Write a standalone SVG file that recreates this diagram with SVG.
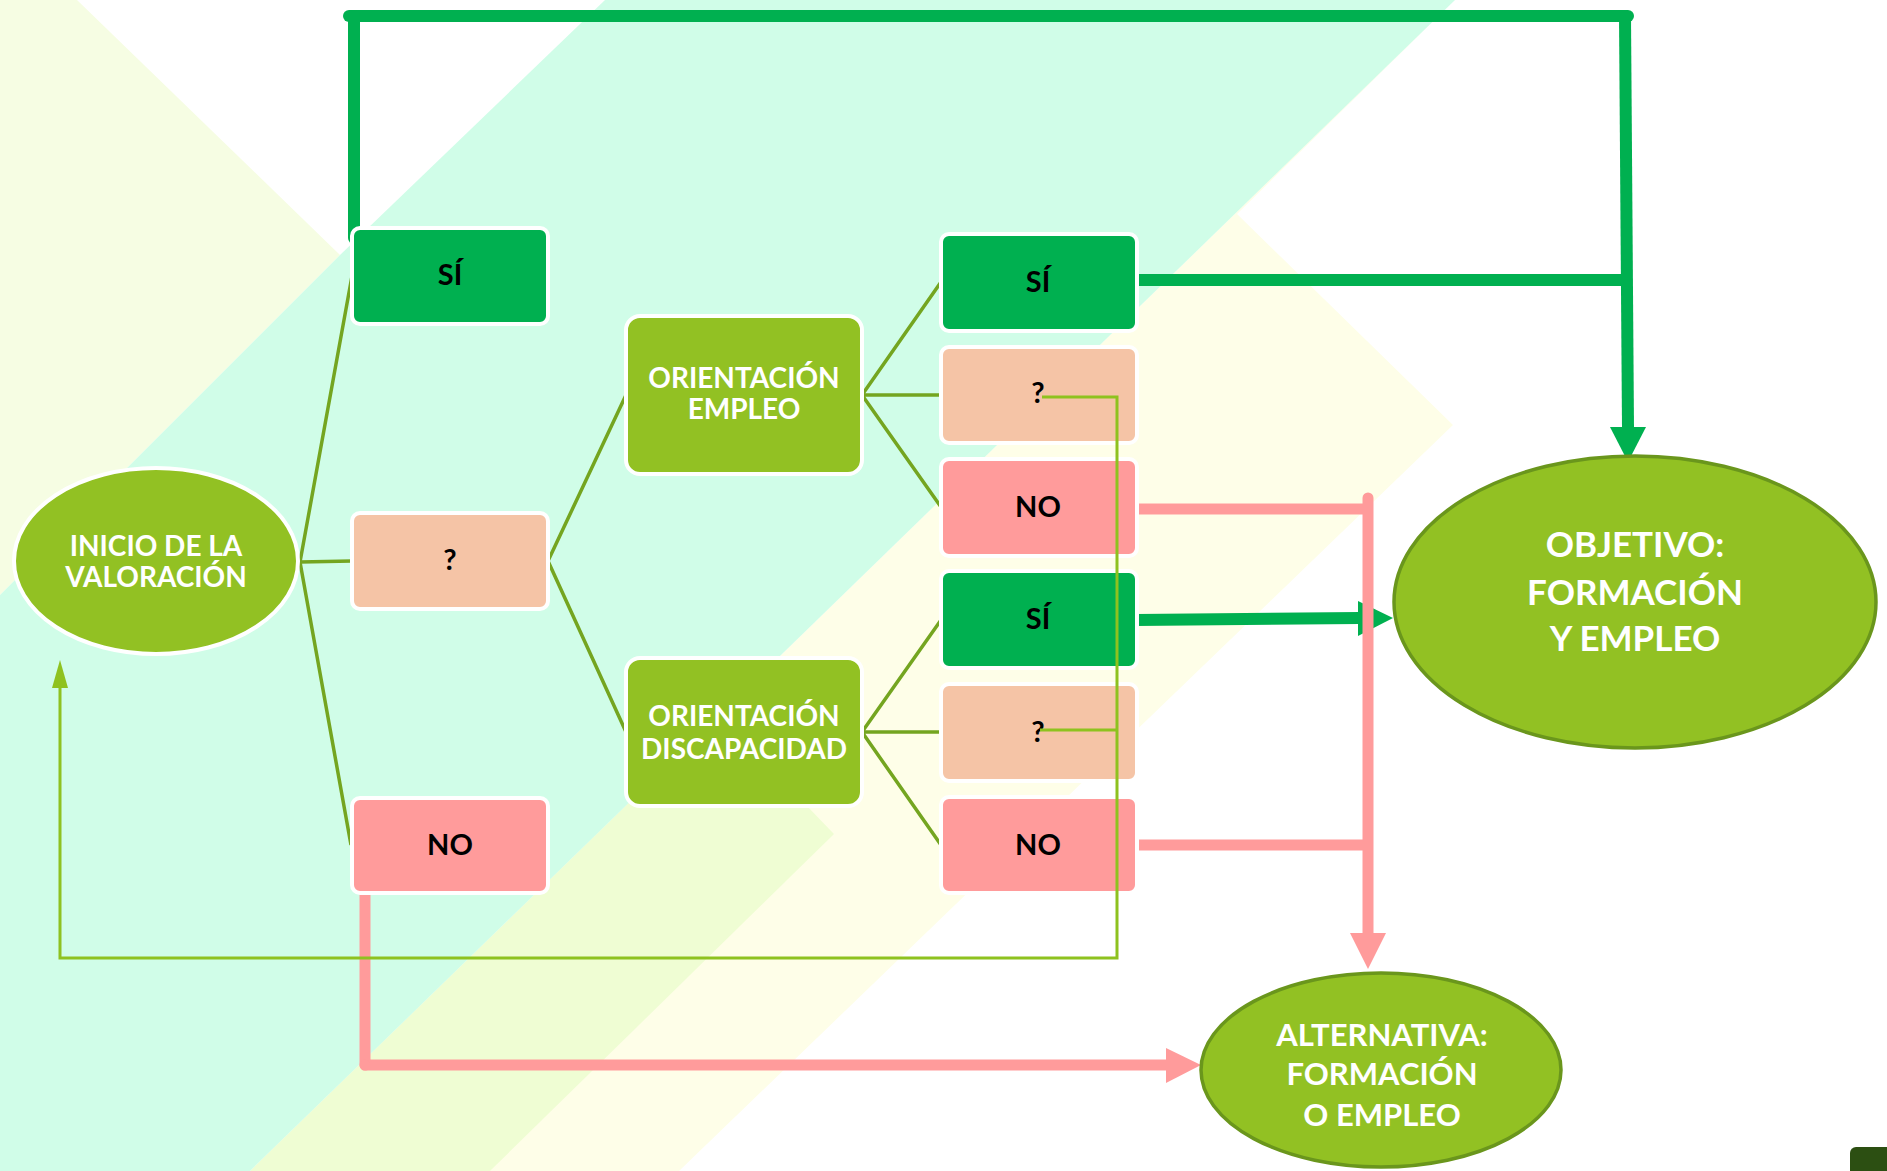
<svg xmlns="http://www.w3.org/2000/svg" width="1887" height="1171" viewBox="0 0 1887 1171">
<style>
.box{stroke:#fff;stroke-width:4}
.si{fill:#00b050}
.q{fill:#f5c4a6}
.no{fill:#ff9b9b}
.lime{fill:#92c123}
.ring{fill:#92c123;stroke:#6a961c;stroke-width:3.5}
.lbl{font-family:Lato,"Open Sans","Liberation Sans",sans-serif;font-weight:bold;font-size:29px;text-anchor:middle;fill:#000}
.wt{font-family:Lato,"Open Sans","Liberation Sans",sans-serif;font-weight:bold;font-size:28px;text-anchor:middle;fill:#fff}
.fan{fill:none;stroke:#74a520;stroke-width:3.5}
.loop{fill:none;stroke:#8ec21f;stroke-width:3}
.g{fill:none;stroke:#00b050;stroke-width:12}
.p{fill:none;stroke:#ff9b9b;stroke-width:11}
</style>
<rect width="1887" height="1171" fill="#ffffff"/>
<g id="background">
<polygon points="0,0 77,0 340,255 0,595" fill="#f6fde3"/>
<polygon points="1237,214 1453,425 679,1171 250,1171 1455,0" fill="#fefee8"/>
<polygon points="719,715 834,834 490,1171 250,1171" fill="#effdd3"/>
<polygon points="605,0 1455,0 250,1171 0,1171 0,595 340,255" fill="#d0fde8"/>
</g>
<g id="connectors">
<path class="fan" d="M300,562 L352,276 M300,562 L352,561 M300,562 L351,845"/>
<path class="fan" d="M548,561 L626,395 M548,561 L626,732"/>
<path class="fan" d="M862,395 L941,282 M862,395 L941,395 M862,395 L941,507"/>
<path class="fan" d="M862,732 L941,620 M862,732 L941,732 M862,732 L941,845"/>
<path class="g" stroke-linecap="round" d="M349,16 H1628"/>
<path class="g" stroke-linecap="round" d="M354,16 V238"/>
<path class="g" d="M1625,16 L1628,428"/>
<polygon points="1610,427 1646,427 1628,462" fill="#00b050"/>
<path class="g" d="M1136,280 H1625"/>
<path class="g" d="M1136,620 L1360,618"/>
<polygon points="1358,601 1358,636 1393,618" fill="#00b050"/>
<path class="p" d="M1136,509 H1368"/>
<path class="p" stroke-linecap="round" d="M1368,498 V934"/>
<polygon points="1350,933 1386,933 1368,969" fill="#ff9b9b"/>
<path class="p" d="M1136,845 H1368"/>
<path class="p" stroke-linejoin="round" d="M365,892 V1065 H1168"/>
<circle cx="365" cy="1065" r="5.5" fill="#ff9b9b"/>
<polygon points="1166,1048 1166,1083 1201,1065" fill="#ff9b9b"/>
</g>
<g id="node-inicio">
<ellipse cx="156" cy="561" rx="142" ry="93" class="lime box"/>
<text class="wt" x="156" y="556">INICIO DE LA</text>
<text class="wt" x="156" y="587">VALORACIÓN</text>
</g>
<g id="node-si-1">
<rect x="352" y="228" width="196" height="96" rx="8" class="si box"/>
<text class="lbl" x="450" y="285">SÍ</text>
</g>
<g id="node-q-1">
<rect x="352" y="513" width="196" height="96" rx="8" class="q box"/>
<text class="lbl" x="450" y="570">?</text>
</g>
<g id="node-no-1">
<rect x="352" y="798" width="196" height="95" rx="8" class="no box"/>
<text class="lbl" x="450" y="855">NO</text>
</g>
<g id="node-orient-empleo">
<rect x="626" y="316" width="236" height="158" rx="14" class="lime box"/>
<text class="wt" x="744" y="388">ORIENTACIÓN</text>
<text class="wt" x="744" y="419">EMPLEO</text>
</g>
<g id="node-orient-discap">
<rect x="626" y="658" width="236" height="148" rx="14" class="lime box"/>
<text class="wt" x="744" y="726">ORIENTACIÓN</text>
<text class="wt" x="744" y="759">DISCAPACIDAD</text>
</g>
<g id="node-si-2">
<rect x="941" y="234" width="196" height="97" rx="8" class="si box"/>
<text class="lbl" x="1038" y="292">SÍ</text>
</g>
<g id="node-q-2">
<rect x="941" y="347" width="196" height="96" rx="8" class="q box"/>
<text class="lbl" x="1038" y="403">?</text>
</g>
<g id="node-no-2">
<rect x="941" y="459" width="196" height="97" rx="8" class="no box"/>
<text class="lbl" x="1038" y="517">NO</text>
</g>
<g id="node-si-3">
<rect x="941" y="571" width="196" height="97" rx="8" class="si box"/>
<text class="lbl" x="1038" y="629">SÍ</text>
</g>
<g id="node-q-3">
<rect x="941" y="684" width="196" height="97" rx="8" class="q box"/>
<text class="lbl" x="1038" y="742">?</text>
</g>
<g id="node-no-3">
<rect x="941" y="797" width="196" height="96" rx="8" class="no box"/>
<text class="lbl" x="1038" y="855">NO</text>
</g>
<g id="loop-connector">
<path class="loop" d="M1042,397 H1117 V958 H60 V688"/>
<path class="loop" d="M1040,730 H1117"/>
<polygon points="52,688 68,688 60,660" fill="#8ec21f"/>
</g>
<g id="node-objetivo">
<ellipse cx="1635" cy="602" rx="241" ry="146" class="ring"/>
<text class="wt" style="font-size:35px" x="1635" y="557">OBJETIVO:</text>
<text class="wt" style="font-size:35px" x="1635" y="605">FORMACIÓN</text>
<text class="wt" style="font-size:35px" x="1635" y="651">Y EMPLEO</text>
</g>
<g id="node-alternativa">
<ellipse cx="1381" cy="1070" rx="180" ry="97" class="ring"/>
<text class="wt" style="font-size:31px" x="1382" y="1046">ALTERNATIVA:</text>
<text class="wt" style="font-size:31px" x="1382" y="1085">FORMACIÓN</text>
<text class="wt" style="font-size:31px" x="1382" y="1126">O EMPLEO</text>
</g>
<rect x="1850" y="1147" width="45" height="30" rx="6" fill="#2c4f12"/>
</svg>
